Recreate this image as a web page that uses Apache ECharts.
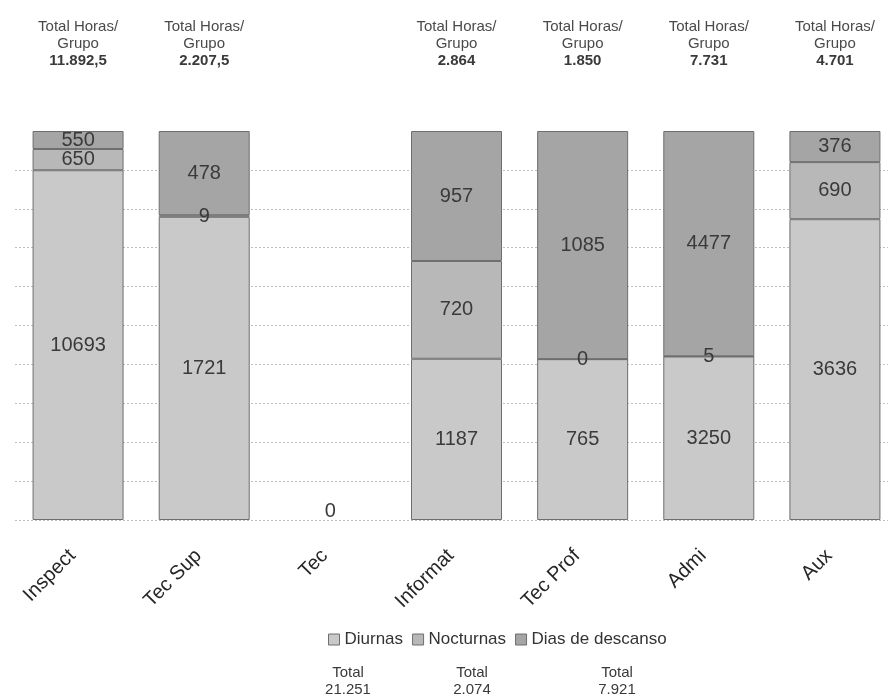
<!DOCTYPE html>
<html>
<head>
<meta charset="utf-8">
<script src="https://cdn.jsdelivr.net/npm/echarts@6/dist/echarts.min.js"></script>
<style>
  html, body { margin: 0; padding: 0; background: #ffffff; }
  #chart { width: 888px; height: 697px; }
</style>
</head>
<body>
<div id="chart"></div>
<script>
// Hours per staff group, split by shift type
const categories = ['Inspect', 'Tec Sup', 'Tec', 'Informat', 'Tec Prof', 'Admi', 'Aux'];
const seriesNames = ['Diurnas', 'Nocturnas', 'Dias de descanso'];
const diurnas = [10693, 1721, 0, 1187, 765, 3250, 3636];
const nocturnas = [650, 9, 0, 720, 0, 5, 690];
const descanso = [550, 478, 0, 957, 1085, 4477, 376];
// Printed totals per group (above bars) and per shift type (under legend)
const groupTotals = ['11.892,5', '2.207,5', '', '2.864', '1.850', '7.731', '4.701'];
const seriesTotals = ['21.251', '2.074', '7.921'];

const raw = [diurnas, nocturnas, descanso];
const colors = ['#c9c9c9', '#b8b8b8', '#a5a5a5'];
const FONT = '"Liberation Sans", Arial, sans-serif';

const colSum = categories.map((_, i) => raw.reduce((s, arr) => s + arr[i], 0));

// Each segment is drawn as its share of the column (100% stacked)
const segSeries = raw.map((arr, k) => ({
  name: seriesNames[k],
  type: 'bar',
  stack: 'total',
  barWidth: 91,
  itemStyle: { color: colors[k], borderColor: '#6e6e6e', borderWidth: 1 },
  label: {
    show: true,
    position: 'inside',
    fontFamily: FONT,
    fontSize: 20,
    color: '#3a3a3a',
    formatter: p => String(arr[p.dataIndex])
  },
  emphasis: { disabled: true },
  data: arr.map((v, i) => {
    const share = colSum[i] > 0 ? v / colSum[i] * 100 : 0;
    if (colSum[i] === 0) {
      // empty column: no outline, one "0" just above the baseline
      return k === 0
        ? { value: share, itemStyle: { borderWidth: 0 }, label: { offset: [0, -9] } }
        : { value: share, itemStyle: { borderWidth: 0 }, label: { show: false } };
    }
    return share;
  })
}));

// Zero-height cap on each stack carrying the group total text
const capSeries = {
  name: 'Total Horas/Grupo',
  type: 'bar',
  stack: 'total',
  barWidth: 91,
  itemStyle: { color: 'rgba(0,0,0,0)', borderWidth: 0 },
  emphasis: { disabled: true },
  label: {
    show: true,
    position: 'top',
    distance: 62,
    fontFamily: FONT,
    formatter: p => '{t|Total Horas/}\n{t|Grupo}\n{v|' + groupTotals[p.dataIndex] + '}',
    rich: {
      t: { fontFamily: FONT, fontSize: 15, color: '#4a4a4a', lineHeight: 17, align: 'center' },
      v: { fontFamily: FONT, fontSize: 15, fontWeight: 'bold', color: '#3a3a3a', lineHeight: 17, align: 'center' }
    }
  },
  data: groupTotals.map(g => (g === '' ? '-' : 0))
};

const chart = echarts.init(document.getElementById('chart'), null, { renderer: 'canvas' });

chart.setOption({
  backgroundColor: '#ffffff',
  animation: false,
  grid: { left: 15, top: 131, width: 883, height: 389, containLabel: false, outerBoundsMode: 'none' },
  legend: {
    data: seriesNames,
    left: 323,
    top: 626,
    icon: 'rect',
    itemWidth: 11,
    itemHeight: 11,
    itemGap: 9,
    itemStyle: { borderColor: '#6e6e6e', borderWidth: 1 },
    textStyle: { fontFamily: FONT, fontSize: 17, color: '#333333' }
  },
  xAxis: {
    type: 'category',
    data: categories,
    axisLine: { show: false },
    axisTick: { show: false },
    axisLabel: {
      rotate: 45,
      margin: 27,
      padding: [0, 8, 0, 0],
      fontFamily: FONT,
      fontSize: 20,
      color: '#262626'
    }
  },
  yAxis: {
    type: 'value',
    min: 0,
    max: 100,
    interval: 10,
    axisLabel: { show: false },
    axisLine: { show: false },
    axisTick: { show: false },
    splitLine: { show: true, showMaxLine: false, lineStyle: { color: '#bdbdbd', type: [2, 2], width: 1 } }
  },
  graphic: seriesTotals.map((t, k) => ({
    type: 'text',
    x: [348, 472, 617][k],
    y: 664,
    style: {
      text: 'Total\n' + t,
      font: '15px ' + FONT,
      fill: '#3a3a3a',
      align: 'center',
      verticalAlign: 'top',
      lineHeight: 17
    }
  })),
  series: [...segSeries, capSeries]
});
</script>
</body>
</html>
